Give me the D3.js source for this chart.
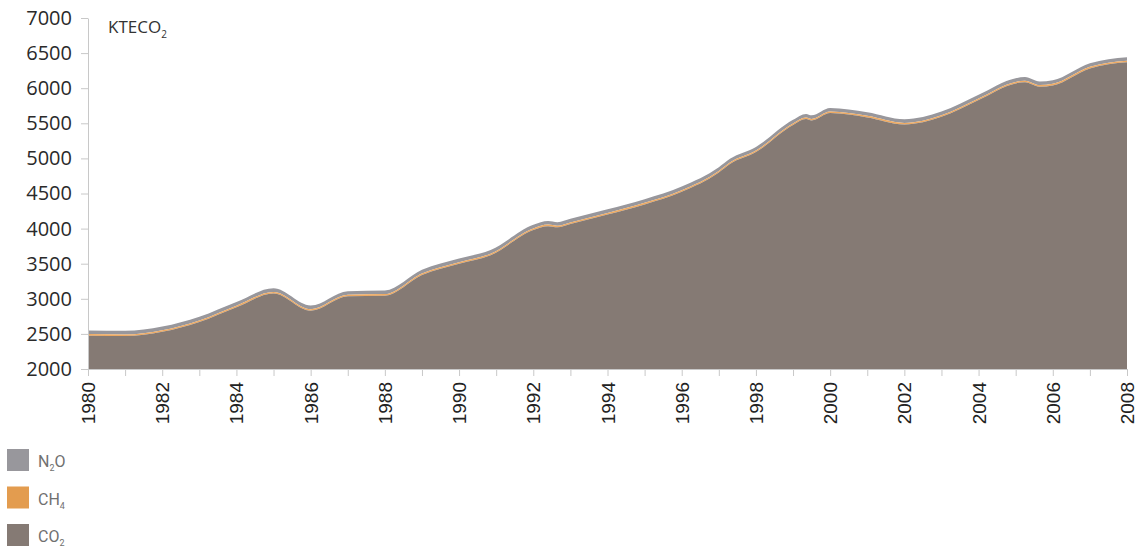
<!DOCTYPE html>
<html><head><meta charset="utf-8">
<script src="https://cdn.jsdelivr.net/npm/d3@7"></script>
<style>body{margin:0;background:#fff}svg{display:block}</style>
</head><body><svg id="c" width="1140" height="553"></svg>
<script>
// Data. Some fractional-year points capture small bumps.
const years = [1980,1981,1982,1983,1984,1985,1986,1987,1988,1989,1990,1990.85,1992,1992.4,1992.65,1993,1994,1995,1996,1997,1997.3,1998,1999,1999.35,1999.5,2000,2001,2002,2003,2004,2005,2005.25,2005.65,2006,2007,2008];
const co2 = [2475,2470,2530,2670,2880,3075,2830,3035,3045,3340,3500,3620,3980,4035,4018,4065,4200,4345,4526,4800,4920,5090,5476,5560,5540,5645,5584,5484,5594,5832,6068,6085,6022,6040,6282,6368];
const ch4 = years.map(() => 22);
const n2o = years.map(() => 52);
const yTicks = [2000,2500,3000,3500,4000,4500,5000,5500,6000,6500,7000];
const xLabelYears = d3.range(1980, 2009, 2);

const svg = d3.select("#c");
const mLeft = 88, mRight = 1127, mTop = 18, mBottom = 369;
const x = d3.scaleLinear().domain([1980, 2008]).range([mLeft, mRight]);
const y = d3.scaleLinear().domain([2000, 7000]).range([mBottom, mTop]);

const rows = years.map((yr, i) => ({year: yr, co2: co2[i], ch4: ch4[i], n2o: n2o[i]}));
const stack = d3.stack().keys(["co2","ch4","n2o"]);
const layers = stack(rows);
const colors = {co2: "#857a74", ch4: "#eeaa62", n2o: "#98979c"};
const area = d3.area().x(d => x(d.data.year)).y0(d => y(Math.max(d[0], 2000))).y1(d => y(d[1])).curve(d3.curveMonotoneX);

svg.append("g").selectAll("path").data(layers.slice().reverse()).join("path")
  .attr("d", area).attr("fill", d => colors[d.key]);

// Y axis
const yAxis = svg.append("g").attr("transform", `translate(${mLeft},0)`)
  .call(d3.axisLeft(y).tickValues(yTicks).tickFormat(d3.format("d")).tickSize(7).tickPadding(9).tickSizeOuter(0));
yAxis.select(".domain").attr("stroke", "#c8c8c8");
yAxis.selectAll(".tick line").attr("stroke", "#c8c8c8");
yAxis.selectAll("text").attr("font-family", "'Open Sans', sans-serif").attr("font-size", 20).attr("fill", "#2a2a2a");

// X axis
const xAxis = svg.append("g").attr("transform", `translate(0,${mBottom})`)
  .call(d3.axisBottom(x).tickValues(d3.range(1980, 2009)).tickSize(7).tickSizeOuter(0).tickFormat(""));
xAxis.select(".domain").attr("stroke", "#c8c8c8");
xAxis.selectAll(".tick line").attr("stroke", "#c8c8c8");
svg.append("g").selectAll("text").data(xLabelYears).join("text")
  .attr("transform", d => `translate(${x(d) + 7},${mBottom + 13}) rotate(-90)`)
  .attr("text-anchor", "end")
  .attr("font-family", "'Liberation Sans', Arial, sans-serif").attr("font-size", 19).attr("fill", "#222")
  .text(d => d);

// Unit label
const u = svg.append("text").attr("x", 108).attr("y", 33)
  .attr("font-family", "'Open Sans', sans-serif").attr("font-size", 17).attr("fill", "#333");
u.append("tspan").text("KTECO");
u.append("tspan").attr("font-size", 10).attr("dy", 5).text("2");

// Legend
const legItems = [
  {key: "n2o", base: "N", sub: "2", tail: "O"},
  {key: "ch4", base: "CH", sub: "4", tail: ""},
  {key: "co2", base: "CO", sub: "2", tail: ""}
];
const legColors = {n2o: "#98979c", ch4: "#e39c4f", co2: "#857a74"};
const lg = svg.append("g");
legItems.forEach((it, i) => {
  const yy = 449 + i * 37.5;
  lg.append("rect").attr("x", 7).attr("y", yy).attr("width", 22).attr("height", 22).attr("fill", legColors[it.key]);
  const t = lg.append("text").attr("x", 38).attr("y", yy + 18)
    .attr("font-family", "Roboto, sans-serif").attr("font-size", 16).attr("fill", "#707070");
  t.append("tspan").text(it.base);
  t.append("tspan").attr("font-size", 9).attr("dy", 4).text(it.sub);
  if (it.tail) t.append("tspan").attr("dy", -4).text(it.tail);
});
</script></body></html>
